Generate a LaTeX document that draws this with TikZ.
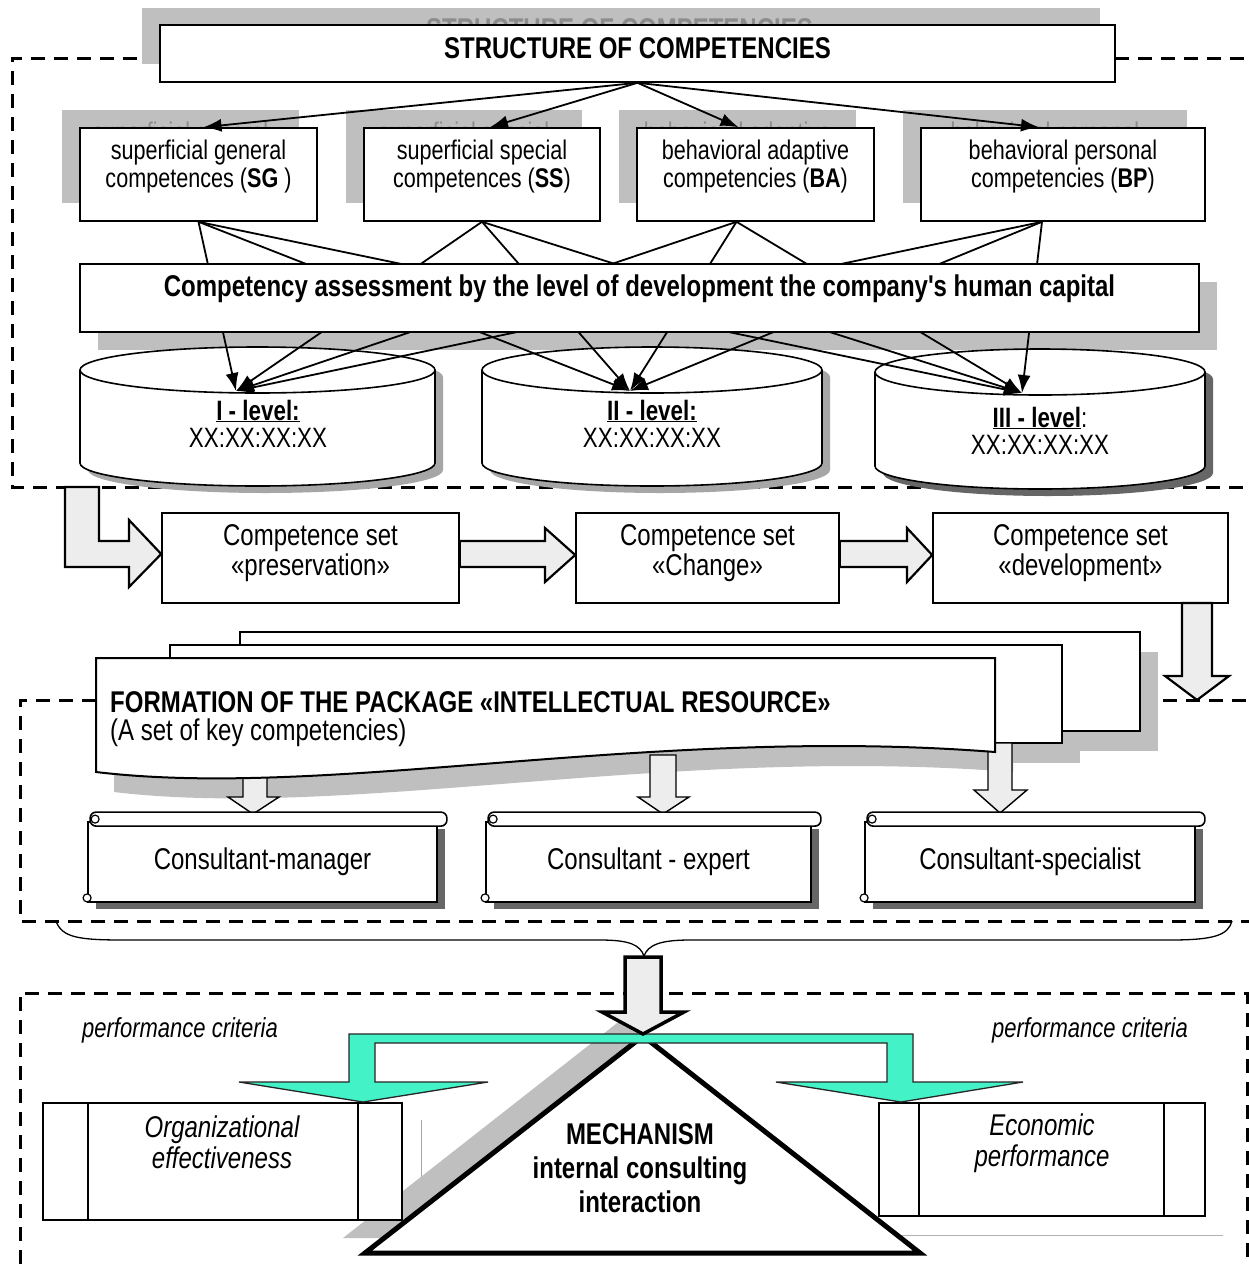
\documentclass[tikz,border=0pt]{standalone}
\usepackage{fontspec}
\setmainfont{Liberation Sans}[FakeStretch=0.8,Ligatures=TeXOff]
\usetikzlibrary{arrows.meta,calc,shadows}
\definecolor{shd}{gray}{0.75}
\definecolor{blkfill}{gray}{0.93}
\definecolor{aqua}{RGB}{68,242,200}
\begin{document}
\begin{tikzpicture}[x=1pt,y=-1pt,
  frame/.style={draw=black,line width=3pt,dash pattern=on 14pt off 9pt},
  box/.style={draw=black,line width=1.6pt,fill=white,inner sep=0pt},
  shbox/.style={fill=shd,draw=none},
  t30/.style={inner sep=0pt,align=center,font=\fontsize{30}{30}\selectfont},
  t27/.style={inner sep=0pt,align=center,font=\fontsize{27}{28}\selectfont},
  sht/.style={t27,text=black!45},
  conn/.style={line width=1.8pt,-{Latex[length=18pt,width=13pt]}},
  blk/.style={draw=black,line width=2.2pt,fill=blkfill,line join=miter},
  sblk/.style={draw=black,line width=1.4pt,fill=blkfill,line join=miter},
  scrollbox/.style={box,line width=1.8pt,drop shadow={shadow xshift=8pt,shadow yshift=-7pt,fill=black!60,opacity=1}},
  cyl/.style={draw=black,line width=1.6pt,fill=white}
]
\useasboundingbox[fill=white] (0,0) rectangle (1249,1264);

% ---------- dashed frames ----------
\draw[frame] (160,58) -- (12,58) -- (12,487) -- (1249,487);
\draw[frame] (1115,58) -- (1249,58);
\draw[frame] (96,700) -- (20,700) -- (20,921) -- (1249,921);
\draw[frame] (1140,700) -- (1249,700);
\draw[frame] (20,1264) -- (20,993) -- (1247,993) -- (1247,1264);

% ---------- title and categories (shadows) ----------
\fill[shd] (142,8) rectangle (1100,64);
\node[t30,text=black!45,font=\fontsize{30}{30}\selectfont\bfseries] at (619.5,29) {STRUCTURE OF COMPETENCIES};
\fill[shd] (62,110) rectangle (299,203);
\fill[shd] (346,110) rectangle (582,203);
\fill[shd] (619,110) rectangle (856,203);
\fill[shd] (903,110) rectangle (1187,203);
\node[sht] at (180.5,149) {superficial general\\competences (SG )};
\node[sht] at (464,149) {superficial special\\competences (SS)};
\node[sht] at (737.5,149) {behavioral adaptive\\competencies (BA)};
\node[sht] at (1045,149) {behavioral personal\\competencies (BP)};

\node[box,minimum width=955,minimum height=57] (ttl) at (637.5,53.5) {};
\node[t30,font=\fontsize{30}{30}\selectfont\bfseries] (ttlt) at (637.5,48) {STRUCTURE OF COMPETENCIES};

\node[box,minimum width=237,minimum height=93] (sg) at (198.5,174.5) {};
\node[box,minimum width=236,minimum height=93] (ss) at (482,174.5) {};
\node[box,minimum width=237,minimum height=93] (ba) at (755.5,174.5) {};
\node[box,minimum width=284,minimum height=93] (bp) at (1063,174.5) {};
\node[t27] (sgt) at (198.5,167) {superficial general\\competences (\textbf{SG} )};
\node[t27] (sst) at (482,167) {superficial special\\competences (\textbf{SS})};
\node[t27] (bat) at (755.5,167) {behavioral adaptive\\competencies (\textbf{BA})};
\node[t27] (bpt) at (1063,167) {behavioral personal\\competencies (\textbf{BP})};

\draw[conn] (ttl.south) -- ([xshift=5pt]sg.north);
\draw[conn] (ttl.south) -- ([xshift=8pt]ss.north);
\draw[conn] (ttl.south) -- ([xshift=-17pt]ba.north);
\draw[conn] (ttl.south) -- ([xshift=-24pt]bp.north);

% ---------- assessment shadow ----------
\fill[shd] (98,282) rectangle (1217,350);

% ---------- cylinders ----------
\fill[black!35] (88,377) -- (88,470) arc[start angle=180,end angle=360,x radius=177.5pt,y radius=23pt] -- (443,377) arc[start angle=0,end angle=180,x radius=177.5pt,y radius=23pt] -- cycle;
\draw[cyl] (80,370) -- (80,463) arc[start angle=180,end angle=360,x radius=177.5pt,y radius=23pt] -- (435,370) arc[start angle=0,end angle=180,x radius=177.5pt,y radius=23pt] -- cycle;
\draw[line width=1.6pt] (80,370) arc[start angle=180,end angle=360,x radius=177.5pt,y radius=23pt];

\fill[black!35] (490,377) -- (490,470) arc[start angle=180,end angle=360,x radius=170pt,y radius=23pt] -- (830,377) arc[start angle=0,end angle=180,x radius=170pt,y radius=23pt] -- cycle;
\draw[cyl] (482,370) -- (482,463) arc[start angle=180,end angle=360,x radius=170pt,y radius=23pt] -- (822,370) arc[start angle=0,end angle=180,x radius=170pt,y radius=23pt] -- cycle;
\draw[line width=1.6pt] (482,370) arc[start angle=180,end angle=360,x radius=170pt,y radius=23pt];

\fill[black!60] (883,379) -- (883,473) arc[start angle=180,end angle=360,x radius=165pt,y radius=23pt] -- (1213,379) arc[start angle=0,end angle=180,x radius=165pt,y radius=23pt] -- cycle;
\draw[cyl] (875,372) -- (875,466) arc[start angle=180,end angle=360,x radius=165pt,y radius=23pt] -- (1205,372) arc[start angle=0,end angle=180,x radius=165pt,y radius=23pt] -- cycle;
\draw[line width=1.6pt] (875,372) arc[start angle=180,end angle=360,x radius=165pt,y radius=23pt];

\coordinate (l1) at (236,391);
\coordinate (l2) at (630,391);
\coordinate (l3) at (1022,393);

\node[t30,font=\fontsize{28}{28}\selectfont\bfseries] (l1a) at (258,411) {\underline{I - level:}};
\node[t30,font=\fontsize{28}{28}\selectfont] (l1b) at (258,438) {XX:XX:XX:XX};
\node[t30,font=\fontsize{28}{28}\selectfont\bfseries] (l2a) at (652,411) {\underline{II - level:}};
\node[t30,font=\fontsize{28}{28}\selectfont] (l2b) at (652,438) {XX:XX:XX:XX};
\node[t30,font=\fontsize{28}{28}\selectfont] (l3a) at (1040,418) {\textbf{\underline{III - level}}:};
\node[t30,font=\fontsize{28}{28}\selectfont] (l3b) at (1040,445) {XX:XX:XX:XX};

% ---------- category -> level connectors ----------
\foreach \l in {l1,l2,l3} {
  \draw[conn] (sg.south) -- (\l);
  \draw[conn] (ss.south) -- (\l);
  \draw[conn] ([xshift=-19pt]ba.south) -- (\l);
  \draw[conn] ([xshift=-21pt]bp.south) -- (\l);
}

\node[box,minimum width=1119,minimum height=68] (asmt) at (639.5,298) {};
\node[t30,font=\fontsize{30}{30}\selectfont\bfseries] (asmtt) at (639.5,289) {Competency assessment by the level of development the company's human capital};

% ---------- competence sets ----------
\node[box,minimum width=297,minimum height=90] (p) at (310.5,558) {};
\node[box,minimum width=263,minimum height=90] (c) at (707.5,558) {};
\node[box,minimum width=295,minimum height=90] (d) at (1080.5,558) {};
\node[t30] (pt) at (310.5,553) {Competence set\\«preservation»};
\node[t30] (ct) at (707.5,553) {Competence set\\«Change»};
\node[t30] (dt) at (1080.5,553) {Competence set\\«development»};

\draw[blk] (65,487) -- (99,487) -- (99,541) -- (129,541) -- (129,520) -- (p.west |- 0,554) -- (129,587) -- (129,567) -- (65,567) -- cycle;
\draw[blk] (p.east |- 0,541) -- (545,541) -- (545,528) -- (c.west |- 0,555) -- (545,582) -- (545,567) -- (p.east |- 0,567) -- cycle;
\draw[blk] (c.east |- 0,541) -- (907,541) -- (907,528) -- (d.west |- 0,555) -- (907,582) -- (907,567) -- (c.east |- 0,567) -- cycle;
\draw[blk] (1182,603) -- (1212,603) -- (1212,676) -- (1229,676) -- (1197,700) -- (1165,676) -- (1182,676) -- cycle;

% ---------- package (multi document) ----------
\begin{scope}[shift={(18,20)}]
\fill[shd] (240,632) rectangle (1140,731);
\fill[shd] (170,645) rectangle (1062,743);
\fill[shd] (96,658) -- (995,658) -- (995,752) .. controls (650,725) and (330,800) .. (96,772) -- cycle;
\end{scope}
\draw[box,line width=2pt] (240,632) rectangle (1140,731);
\draw[box,line width=2pt] (170,645) rectangle (1062,743);

\draw[sblk] (243,765) -- (267,765) -- (267,797) -- (279,797) -- (253,814) -- (228,797) -- (243,797) -- cycle;
\draw[sblk] (650,755) -- (676,755) -- (676,797) -- (689,797) -- (663,814) -- (638,797) -- (650,797) -- cycle;
\draw[sblk] (988,743) -- (1012,743) -- (1012,790) -- (1027,790) -- (1000,813) -- (974,790) -- (988,790) -- cycle;

\draw[box,line width=2pt] (96,658) -- (995,658) -- (995,752) .. controls (650,725) and (330,800) .. (96,772) -- cycle;
\node[inner sep=0pt,anchor=west,font=\fontsize{30}{30}\selectfont\bfseries] (pkg) at (110,702) {FORMATION OF THE PACKAGE «INTELLECTUAL RESOURCE»};
\node[inner sep=0pt,anchor=west,font=\fontsize{30}{30}\selectfont] (pkg2) at (110,733) {(A set of key competencies)};

% ---------- consultants ----------
\node[scrollbox,minimum width=349,minimum height=80] (cm) at (262.5,862) {};
\node[scrollbox,minimum width=325,minimum height=80] (ce) at (648.5,862) {};
\node[scrollbox,minimum width=330,minimum height=80] (cs) at (1030,862) {};
\foreach \n in {cm,ce,cs} {
  \draw[line width=1.6pt,fill=white,rounded corners=6pt] ($(\n.north west)+(3,-9)$) rectangle ($(\n.north east)+(9,5)$);
  \draw[line width=1.2pt] ($(\n.north west)+(8,-2)$) circle (4pt);
  \draw[line width=1.2pt,fill=white] ($(\n.south west)+(0,-5)$) circle (4pt);
}
\node[t30] (cmt) at (cm.center) {Consultant-manager};
\node[t30] (cet) at (ce.center) {Consultant - expert};
\node[t30] (cst) at (cs.center) {Consultant-specialist};

% ---------- brace ----------
\draw[line width=1.3pt] (56,921) .. controls (62,938) and (80,940) .. (125,940) -- (600,940) .. controls (630,940) and (640,945) .. (644,956) .. controls (648,945) and (660,940) .. (690,940) -- (1170,940) .. controls (1215,940) and (1228,935) .. (1232,921);

% ---------- mechanism ----------
\draw[gray!70,line width=1pt] (421,1120) -- (421,1240);
\draw[gray!60,line width=1pt] (900,1235) -- (1223,1235);
\fill[shd] (621,1020) -- (898,1238) -- (343,1238) -- cycle;
\draw[line width=5pt,fill=white,line join=miter] (643,1036) -- (920,1253) -- (365,1253) -- cycle;
\node[t30,font=\fontsize{30}{34}\selectfont\bfseries] (mech) at (640,1168) {MECHANISM\\internal consulting\\interaction};

\node[box,line width=2pt,minimum width=359,minimum height=117] (org) at (222.5,1161.5) {};
\draw[line width=2pt] (88,1103) -- (88,1220) (358,1103) -- (358,1220);
\node[t30,font=\fontsize{30}{31}\selectfont\itshape] (orgt) at (222,1142) {Organizational\\effectiveness};
\node[box,line width=2pt,minimum width=326,minimum height=113] (eco) at (1042,1159.5) {};
\draw[line width=2pt] (919,1103) -- (919,1216) (1164,1103) -- (1164,1216);
\node[t30,font=\fontsize{30}{31}\selectfont\itshape] (ecot) at (1042,1143) {Economic\\performance};

\draw[fill=aqua,draw=black!85,line width=1.3pt,line join=miter] (349,1034) -- (913,1034) -- (913,1082) -- (1023,1082) -- (eco.north west -| 901,0) -- (776,1082) -- (887,1082) -- (887,1043) -- (375,1043) -- (375,1082) -- (488,1082) -- (org.north -| 363,0) -- (239,1082) -- (349,1082) -- cycle;

\draw[blk,line width=3.5pt] (625,957) -- (661,957) -- (661,1012) -- (684,1012) -- (643,1034) -- (602,1012) -- (625,1012) -- cycle;

\node[inner sep=0pt,font=\fontsize{27.5}{28}\selectfont\itshape] (pc1) at (180,1030) {performance criteria};
\node[inner sep=0pt,font=\fontsize{27.5}{28}\selectfont\itshape] (pc2) at (1090,1030) {performance criteria};
\end{tikzpicture}
\end{document}
